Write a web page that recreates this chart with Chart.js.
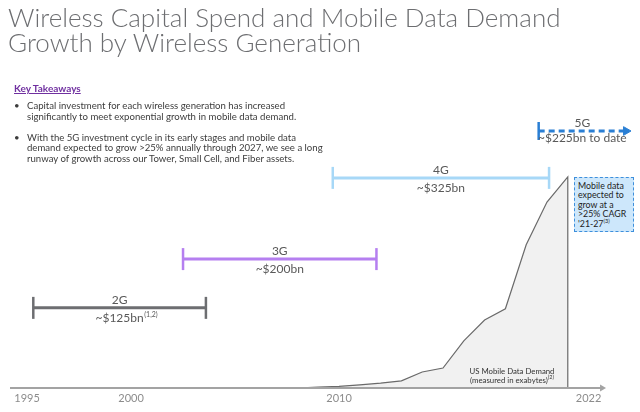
<!DOCTYPE html>
<html>
<head>
<meta charset="utf-8">
<script src="https://cdn.jsdelivr.net/npm/chart.js@4"></script>
<style>
  html, body { margin: 0; padding: 0; background: #fff; }
  #wrap { position: relative; width: 640px; height: 412px; overflow: hidden; font-family: Lato, sans-serif; }
  #chartBox { position: absolute; left: 0; top: 0; width: 640px; height: 412px; }
  .title { position: absolute; left: 8px; top: 5px; font-weight: 300; font-size: 26px; line-height: 25px; color: #6d6e71; white-space: nowrap; }
  .keyhead { position: absolute; left: 14px; top: 82px; font-size: 10px; font-weight: 700; color: #7030a0; text-decoration: underline; }
  .bullets { position: absolute; left: 14px; top: 101px; font-size: 9.6px; line-height: 10.5px; color: #3c3c3c; white-space: nowrap; }
  .bullets div { position: relative; padding-left: 13px; margin-bottom: 10.5px; }
  .bullets div::before { content: "\2022"; position: absolute; left: 0; top: 0; }
  .note { position: absolute; left: 574px; top: 177px; width: 52px; height: 47px; padding: 3px; background: #cde7fb; border: 1px dashed #3d8fdc; font-size: 8.8px; line-height: 9.4px; color: #222; white-space: nowrap; }
  .note sup, .demand sup { font-size: 5.5px; line-height: 0; }
  .demand { position: absolute; left: 458px; top: 367px; width: 108px; text-align: center; font-size: 7.8px; line-height: 8.6px; color: #333; }
</style>
</head>
<body>
<div id="wrap">
  <div id="chartBox"><canvas id="genChart"></canvas></div>
  <div class="title">Wireless Capital Spend and Mobile Data Demand<br>Growth by Wireless Generation</div>
  <div class="keyhead">Key Takeaways</div>
  <div class="bullets">
    <div>Capital investment for each wireless generation has increased<br>significantly to meet exponential growth in mobile data demand.</div>
    <div>With the 5G investment cycle in its early stages and mobile data<br>demand expected to grow &gt;25% annually through 2027, we see a long<br>runway of growth across our Tower, Small Cell, and Fiber assets.</div>
  </div>
  <div class="note">Mobile data<br>expected to<br>grow at a<br>&gt;25% CAGR<br>'21-27<sup>(3)</sup></div>
  <div class="demand">US Mobile Data Demand<br>(measured in exabytes)<sup>(2)</sup></div>
</div>
<script>
// US mobile data demand (exabytes)
const demandYears = [2008, 2009, 2010, 2011, 2012, 2013, 2014, 2015, 2016, 2017, 2018, 2019, 2020, 2021];
const demandValues = [0, 0.2, 0.4, 0.8, 1.2, 1.8, 4.0, 5.0, 11.8, 17.0, 19.8, 35.8, 46.5, 52.8];

// wireless generations: span of years and capital spend
const genNames = ['2G', '3G', '4G', '5G'];
const genStart = [1995.3, 2002.5, 2009.7, 2019.6];
const genEnd = [2003.6, 2011.8, 2020.1, 2023.8];
const genLevel = [29.9, 48.1, 78.4, 95.9];
const genSpend = ['~$125bn', '~$200bn', '~$325bn', '~$225bn to date'];
const genNotes = ['(1,2)', '', '', ''];
const genColors = ['#6d6e71', '#b57ff0', '#a7d8f7', '#2a7fd4'];

const tickYears = [1995, 2000, 2010, 2022];
const axisEnd = 2022.84;

const datasets = genNames.map((name, i) => {
  const is5G = i === 3;
  return {
    label: name,
    data: [{ x: genStart[i], y: genLevel[i] }, { x: genEnd[i], y: genLevel[i] }],
    yAxisID: 'yGen',
    borderColor: genColors[i],
    backgroundColor: genColors[i],
    borderWidth: 3,
    borderDash: is5G ? [6, 4] : [],
    pointStyle: is5G ? ['line', 'triangle'] : ['line', 'line'],
    pointRotation: 90,
    pointRadius: is5G ? [9, 5] : [11, 11],
    pointBorderWidth: is5G ? [2.5, 1] : 2.5,
    pointBorderColor: genColors[i],
    pointBackgroundColor: genColors[i],
    fill: false,
    clip: false
  };
});

datasets.push({
  label: 'US Mobile Data Demand',
  data: demandYears.map((yr, i) => ({ x: yr, y: demandValues[i] }))
    .concat([{ x: demandYears[demandYears.length - 1], y: 0 }]),
  yAxisID: 'yData',
  borderColor: '#6a6a6a',
  borderWidth: 1.2,
  backgroundColor: '#f1f1f1',
  fill: 'origin',
  pointRadius: 0,
  tension: 0
});

// labels above / below each generation span, plus the axis arrow
const genLabels = {
  id: 'genLabels',
  afterDatasetsDraw(chart) {
    const { ctx, chartArea, scales: { x, yGen } } = chart;

    // x axis with arrow
    const yAxis = chartArea.bottom;
    const tip = x.getPixelForValue(axisEnd);
    ctx.save();
    ctx.strokeStyle = '#a3a3a3';
    ctx.fillStyle = '#a3a3a3';
    ctx.lineWidth = 2;
    ctx.beginPath();
    ctx.moveTo(chartArea.left, yAxis);
    ctx.lineTo(tip - 5, yAxis);
    ctx.stroke();
    ctx.beginPath();
    ctx.moveTo(tip, yAxis);
    ctx.lineTo(tip - 6, yAxis - 3.5);
    ctx.lineTo(tip - 6, yAxis + 3.5);
    ctx.closePath();
    ctx.fill();
    ctx.restore();

    genNames.forEach((name, i) => {
      const cx = (x.getPixelForValue(genStart[i]) + x.getPixelForValue(genEnd[i])) / 2;
      const y = yGen.getPixelForValue(genLevel[i]);
      ctx.save();
      ctx.fillStyle = '#595959';
      ctx.textAlign = 'center';
      ctx.textBaseline = 'alphabetic';
      ctx.font = '12px Lato';
      ctx.fillText(name, cx, y - 4);
      const spendY = y + (i === 3 ? 11 : 14);
      ctx.fillText(genSpend[i], cx, spendY);
      if (genNotes[i]) {
        const w = ctx.measureText(genSpend[i]).width;
        ctx.font = '7px Lato';
        ctx.textAlign = 'left';
        ctx.fillText(genNotes[i], cx + w / 2 + 0.5, spendY - 5);
      }
      ctx.restore();
    });
  }
};

new Chart(document.getElementById('genChart'), {
  type: 'line',
  data: { datasets: datasets },
  options: {
    responsive: true,
    maintainAspectRatio: false,
    animation: false,
    layout: { autoPadding: false, padding: { top: 120, left: 10, right: 4, bottom: 0 } },
    plugins: { legend: { display: false }, tooltip: { enabled: false } },
    elements: { line: { borderCapStyle: 'butt' } },
    scales: {
      x: {
        type: 'linear',
        min: 1994.18,
        max: 2024.28,
        grid: { display: false, drawTicks: false },
        border: { display: false },
        afterFit(scale) {
          scale.height = 24;
          scale.paddingLeft = 0;
          scale.paddingRight = 0;
        },
        afterBuildTicks(scale) { scale.ticks = tickYears.map(v => ({ value: v })); },
        ticks: {
          padding: 4,
          color: '#8c8c8c',
          font: { family: 'Lato', size: 11 },
          callback: v => String(v)
        }
      },
      yData: { type: 'linear', display: false, min: 0, max: 67 },
      yGen: { type: 'linear', display: false, min: 0, max: 100 }
    }
  },
  plugins: [genLabels]
});
</script>
</body>
</html>
